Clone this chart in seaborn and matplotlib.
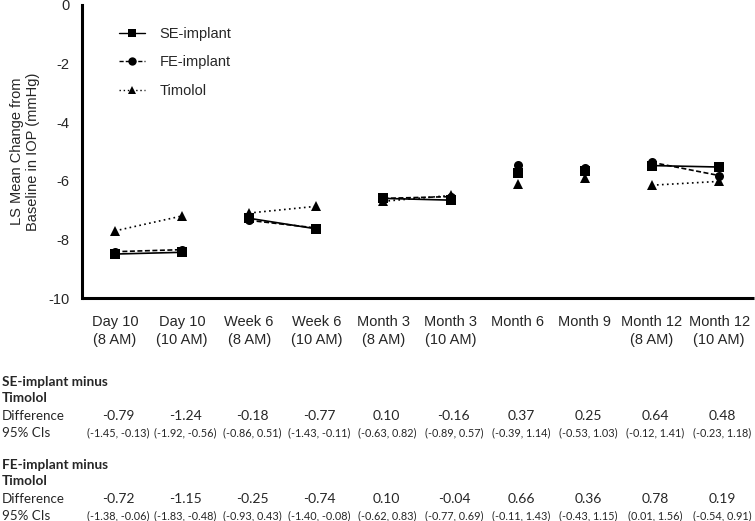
import matplotlib
matplotlib.use("Agg")
import matplotlib.pyplot as plt
import matplotlib.transforms as mtransforms
from matplotlib.lines import Line2D
import pandas as pd
import seaborn as sns

# Time points on the x axis
timepoints = ["Day 10\n(8 AM)", "Day 10\n(10 AM)", "Week 6\n(8 AM)", "Week 6\n(10 AM)",
              "Month 3\n(8 AM)", "Month 3\n(10 AM)", "Month 6", "Month 9",
              "Month 12\n(8 AM)", "Month 12\n(10 AM)"]
# which points are joined by a line (8 AM / 10 AM pairs)
segment = [0, 0, 1, 1, 2, 2, 3, 4, 5, 5]

# LS mean change from baseline in IOP (mmHg)
se_implant = [-8.50, -8.44, -7.28, -7.64, -6.60, -6.66, -5.73, -5.66, -5.48, -5.53]
fe_implant = [-8.42, -8.35, -7.35, -7.61, -6.60, -6.54, -5.45, -5.55, -5.37, -5.82]
timolol = [-7.71, -7.20, -7.10, -6.87, -6.70, -6.50, -6.10, -5.92, -6.15, -6.02]

# Table below the chart
se_diff = ["-0.79", "-1.24", "-0.18", "-0.77", "0.10", "-0.16", "0.37", "0.25", "0.64", "0.48"]
se_ci = ["(-1.45, -0.13)", "(-1.92, -0.56)", "(-0.86, 0.51)", "(-1.43, -0.11)", "(-0.63, 0.82)",
         "(-0.89, 0.57)", "(-0.39, 1.14)", "(-0.53, 1.03)", "(-0.12, 1.41)", "(-0.23, 1.18)"]
fe_diff = ["-0.72", "-1.15", "-0.25", "-0.74", "0.10", "-0.04", "0.66", "0.36", "0.78", "0.19"]
fe_ci = ["(-1.38, -0.06)", "(-1.83, -0.48)", "(-0.93, 0.43)", "(-1.40, -0.08)", "(-0.62, 0.83)",
         "(-0.77, 0.69)", "(-0.11, 1.43)", "(-0.43, 1.15)", "(0.01, 1.56)", "(-0.54, 0.91)"]

groups = {"SE-implant": se_implant, "FE-implant": fe_implant, "Timolol": timolol}
rows = []
for name, vals in groups.items():
    for i, v in enumerate(vals):
        rows.append({"pos": i, "value": v, "group": name, "segment": segment[i]})
df = pd.DataFrame(rows)

sns.set_style("white")
plt.rcParams["font.family"] = ["Liberation Sans", "DejaVu Sans"]
plt.rcParams["axes.unicode_minus"] = False

fig = plt.figure(figsize=(7.55, 5.21), dpi=100)
ax = fig.add_axes([82 / 755, 1 - 298 / 521, 672 / 755, 293 / 521])

markers = {"SE-implant": "s", "FE-implant": "o", "Timolol": "^"}
dashes = {"SE-implant": "", "FE-implant": (3, 1.5), "Timolol": (1, 2)}
sns.lineplot(data=df, x="pos", y="value", style="group", units="segment", estimator=None,
             markers=markers, dashes=dashes, color="black", linewidth=1.2,
             markersize=6.5, markeredgewidth=0, legend=False, ax=ax)

ax.set_xlim(-0.49, 9.52)
ax.set_ylim(-10, 0)
ax.set_xticks(range(len(timepoints)))
ax.set_xticklabels(timepoints, fontsize=10.5, linespacing=1.35)
ax.set_yticks([0, -2, -4, -6, -8, -10])
ax.set_yticklabels(["0", "-2", "-4", "-6", "-8", "-10"], fontsize=10.5)
ax.set_xlabel("")
ax.set_ylabel("LS Mean Change from\nBaseline in IOP (mmHg)", fontsize=10.5, labelpad=6)
ax.tick_params(axis="both", direction="out", length=6, width=2, color="black", pad=3)
ax.tick_params(axis="x", pad=6)
sns.despine(ax=ax)
for side in ["left", "bottom"]:
    ax.spines[side].set_linewidth(2.2)
    ax.spines[side].set_color("black")
ax.spines["bottom"].set_capstyle("butt")

styles = {"SE-implant": "-", "FE-implant": (0, (3, 1.5)), "Timolol": (0, (1, 2))}
handles = [Line2D([], [], color="black", marker=markers[g], markersize=6, markeredgewidth=0,
                  linewidth=1.0, linestyle=styles[g]) for g in groups]
ax.legend(handles, list(groups), loc="upper left", bbox_to_anchor=(0.035, 0.97), frameon=False,
          fontsize=10.5, handlelength=1.8, labelspacing=1.0, handletextpad=1.0)

# table of differences
tr = mtransforms.blended_transform_factory(ax.transData, fig.transFigure)
tfont = ["Lato", "DejaVu Sans"]


def fy(py):
    return 1 - py / 521


def block(top, title, diffs, cis):
    fig.text(0.002, fy(top), title, fontsize=9.8, fontweight="bold", family=tfont, va="center")
    fig.text(0.002, fy(top + 16), "Timolol", fontsize=9.8, fontweight="bold", family=tfont, va="center")
    fig.text(0.002, fy(top + 34), "Difference", fontsize=9.6, family=tfont, va="center")
    fig.text(0.002, fy(top + 51), "95% CIs", fontsize=9.6, family=tfont, va="center")
    for i in range(len(diffs)):
        ax.text(i + 0.05, fy(top + 34), diffs[i], transform=tr, ha="center", va="center",
                fontsize=10, family=tfont)
        ax.text(i + 0.05, fy(top + 51), cis[i], transform=tr, ha="center", va="center",
                fontsize=7.8, family=tfont)


block(382, "SE-implant minus", se_diff, se_ci)
block(465, "FE-implant minus", fe_diff, fe_ci)

plt.savefig("out.png", dpi=100)
